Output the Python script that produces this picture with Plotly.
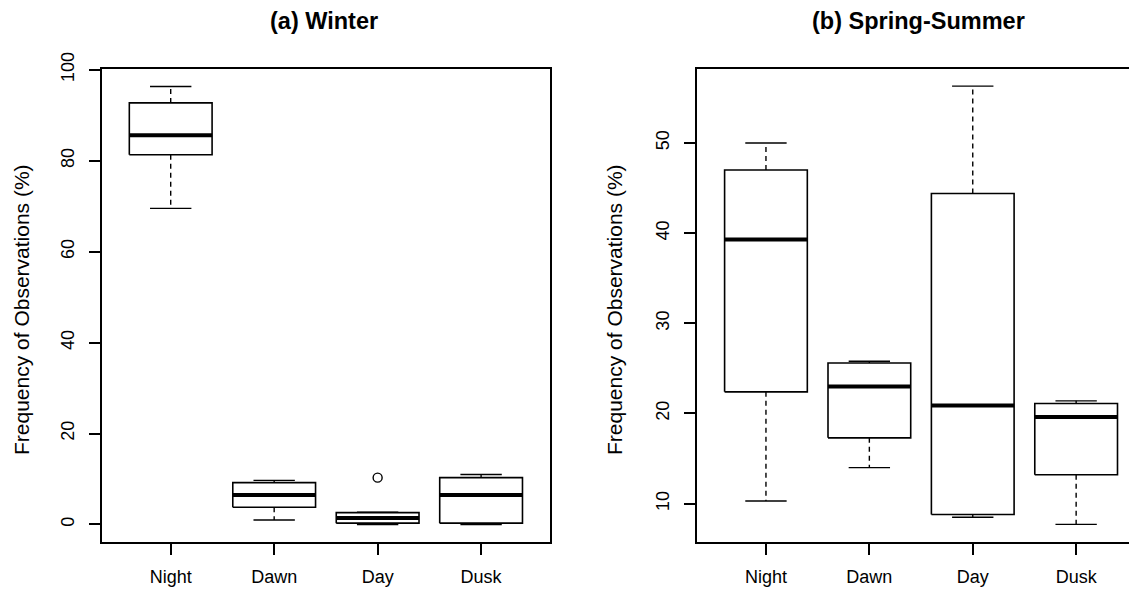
import plotly.graph_objects as go

categories = ["Night", "Dawn", "Day", "Dusk"]

# Winter box statistics (lower whisker, Q1, median, Q3, upper whisker)
winter_low = [69.5, 1.0, 0.0, 0.0]
winter_q1 = [81.3, 3.8, 0.3, 0.3]
winter_med = [85.6, 6.5, 1.4, 6.5]
winter_q3 = [92.7, 9.2, 2.6, 10.3]
winter_high = [96.3, 9.7, 2.7, 11.0]
winter_outlier_cat = ["Day"]
winter_outlier_val = [10.3]

# Spring-Summer box statistics
spring_low = [10.3, 14.0, 8.5, 7.7]
spring_q1 = [22.4, 17.3, 8.8, 13.2]
spring_med = [39.3, 23.0, 20.9, 19.6]
spring_q3 = [47.0, 25.6, 44.4, 21.1]
spring_high = [50.0, 25.8, 56.3, 21.4]

W, H = 1137, 592
FONT = "Liberation Sans, Arial, sans-serif"
BOX_HALF = 0.4
CAP_HALF = 0.2

fig = go.Figure()


def add_boxes(low, q1, med, q3, high, xa, ya):
    bx, by, mx, my, wx, wy, cx, cy = [], [], [], [], [], [], [], []
    for i, _ in enumerate(categories):
        p = i + 1
        bx += [p - BOX_HALF, p + BOX_HALF, p + BOX_HALF, p - BOX_HALF, p - BOX_HALF, None]
        by += [q1[i], q1[i], q3[i], q3[i], q1[i], None]
        mx += [p - BOX_HALF, p + BOX_HALF, None]
        my += [med[i], med[i], None]
        wx += [p, p, None, p, p, None]
        wy += [q3[i], high[i], None, q1[i], low[i], None]
        cx += [p - CAP_HALF, p + CAP_HALF, None, p - CAP_HALF, p + CAP_HALF, None]
        cy += [high[i], high[i], None, low[i], low[i], None]
    common = dict(mode="lines", xaxis=xa, yaxis=ya, showlegend=False, hoverinfo="skip")
    fig.add_trace(go.Scatter(x=wx, y=wy, line=dict(color="black", width=1.4, dash="5px,4px"), **common))
    fig.add_trace(go.Scatter(x=cx, y=cy, line=dict(color="black", width=1.4), **common))
    fig.add_trace(go.Scatter(x=bx, y=by, line=dict(color="black", width=1.6), **common))
    fig.add_trace(go.Scatter(x=mx, y=my, line=dict(color="black", width=4), **common))


add_boxes(winter_low, winter_q1, winter_med, winter_q3, winter_high, "x", "y")
add_boxes(spring_low, spring_q1, spring_med, spring_q3, spring_high, "x2", "y2")

fig.add_trace(go.Scatter(
    x=[categories.index(c) + 1 for c in winter_outlier_cat], y=winter_outlier_val,
    mode="markers", xaxis="x", yaxis="y", showlegend=False, hoverinfo="skip",
    marker=dict(symbol="circle-open", size=9, color="black", line=dict(width=1.4)),
))

ydom = [1 - 534 / H, 1 - 61 / H]
tickfont = dict(family=FONT, size=18, color="black")
axis_common = dict(
    showline=True, linecolor="black", linewidth=1.5, ticks="outside", ticklen=11,
    tickwidth=1.5, tickcolor="black", showgrid=False, zeroline=False, tickfont=tickfont,
    automargin=False,
)

fig.update_layout(
    width=W, height=H, margin=dict(l=0, r=0, t=0, b=0, autoexpand=False),
    paper_bgcolor="white", plot_bgcolor="white",
    xaxis=dict(domain=[93.8 / W, 542 / W], range=[0.334, 4.666], tickvals=[1, 2, 3, 4],
               ticktext=categories, mirror=True, anchor="y", ticklabelstandoff=7, **axis_common),
    yaxis=dict(domain=ydom, range=[-3.85, 100.15], tickvals=[0, 20, 40, 60, 80, 100],
               tickangle=-90, mirror=True, anchor="x", ticklabelstandoff=8, **axis_common),
    xaxis2=dict(domain=[689.1 / W, 1.0], range=[0.334, 4.666], tickvals=[1, 2, 3, 4],
                ticktext=categories, mirror=True, anchor="y2", ticklabelstandoff=7, **axis_common),
    yaxis2=dict(domain=ydom, range=[5.75, 58.2], tickvals=[10, 20, 30, 40, 50],
                tickangle=-90, anchor="x2", ticklabelstandoff=8, **axis_common),
)

annots = [
    dict(text="<b>(a) Winter</b>", x=316 / W, y=1 - 13 / H, size=23.5, angle=0),
    dict(text="<b>(b) Spring-Summer</b>", x=910 / W, y=1 - 13 / H, size=23.5, angle=0),
    dict(text="Frequency of Observations (%)", x=13 / W, y=1 - 302 / H, size=21, angle=-90),
    dict(text="Frequency of Observations (%)", x=606 / W, y=1 - 302 / H, size=21, angle=-90),
]
for a in annots:
    fig.add_annotation(
        text=a["text"], x=a["x"], y=a["y"], xref="paper", yref="paper",
        xanchor="center", yanchor="middle", showarrow=False, textangle=a["angle"],
        font=dict(family=FONT, size=a["size"], color="black"),
    )

fig.write_html("out.html")
